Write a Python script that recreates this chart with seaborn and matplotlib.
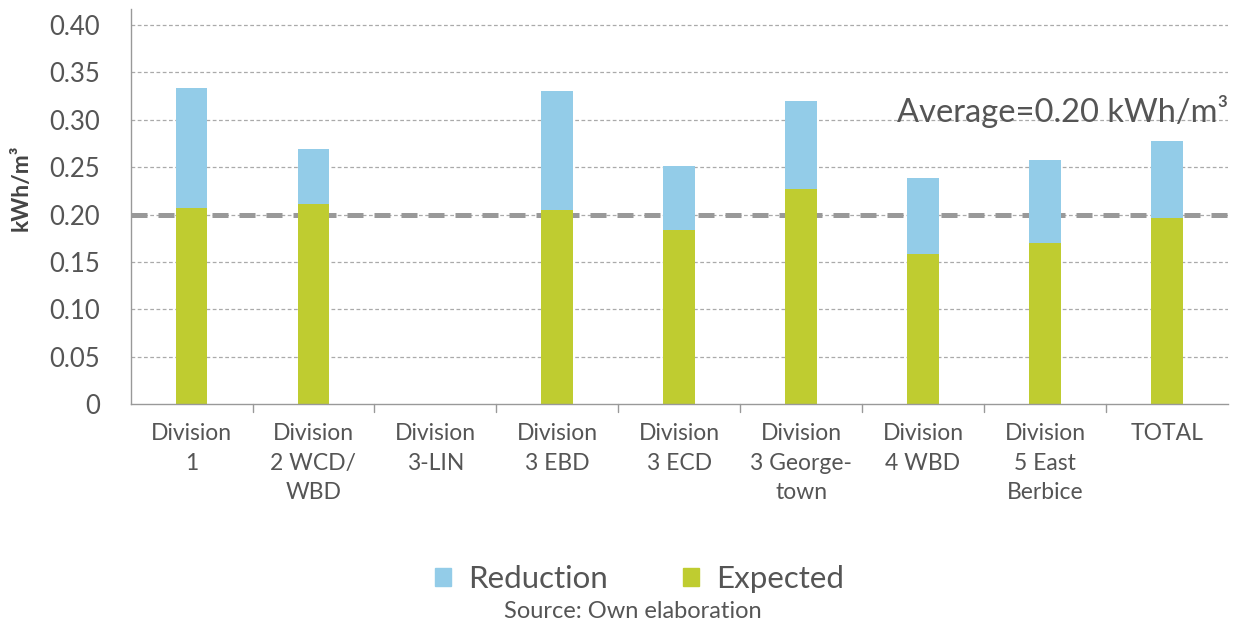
import numpy as np
import pandas as pd
import seaborn as sns
from matplotlib import pyplot as plt
from matplotlib.patches import Patch

categories = ["Division\n1", "Division\n2 WCD/\nWBD", "Division\n3-LIN", "Division\n3 EBD",
              "Division\n3 ECD", "Division\n3 George-\ntown", "Division\n4 WBD",
              "Division\n5 East\nBerbice", "TOTAL"]
expected = [0.207, 0.211, 0.0, 0.205, 0.184, 0.227, 0.158, 0.170, 0.196]
reduction = [0.127, 0.058, 0.0, 0.125, 0.067, 0.093, 0.081, 0.088, 0.082]
average = 0.20

BLUE = "#93cce8"
GREEN = "#bfcc30"
TXT = "#555555"
GREY = "#999999"

sns.set_style("white")
plt.rcParams["font.family"] = ["Lato", "DejaVu Sans"]

df = pd.DataFrame({"cat": categories, "expected": expected, "reduction": reduction})
df["total"] = df["expected"] + df["reduction"]

fig = plt.figure(figsize=(12.44, 6.24), dpi=100)
ax = fig.add_axes([0.105, 0.3526, 0.882, 0.633])

# stacked: draw total (blue) then expected (green) over it
sns.barplot(data=df, x="cat", y="total", color=BLUE, width=0.26, saturation=1,
            linewidth=0, ax=ax, zorder=2)
sns.barplot(data=df, x="cat", y="expected", color=GREEN, width=0.26, saturation=1,
            linewidth=0, ax=ax, zorder=2)

ax.set_xlim(-0.5, len(categories) - 0.5)
ax.set_ylim(0, 0.417)
ax.set_yticks(np.arange(0, 0.41, 0.05))
ax.set_yticklabels(["0"] + [f"{v:.2f}" for v in np.arange(0.05, 0.41, 0.05)])

for v in np.arange(0.05, 0.41, 0.05):
    ax.axhline(v, color="#aaaaaa", lw=0.9, ls=(0, (3, 2)), zorder=0)

ax.axhline(average, color=GREY, lw=3.6, ls=(0, (3.2, 2.2)), zorder=1)
ax.text(len(categories) - 0.5, 0.298, "Average=0.20 kWh/m³", ha="right", va="baseline",
        fontsize=23.5, color=TXT)

# category boundary ticks on x axis
ax.set_xticks(np.arange(len(categories)))
ax.set_xticklabels(categories, fontsize=16.5, color=TXT, linespacing=1.5)
ax.tick_params(axis="x", length=0, pad=14)
for b in np.arange(0.5, len(categories) - 0.5, 1):
    ax.plot([b, b], [0, -0.008], color="#999999", lw=1, clip_on=False)

ax.tick_params(axis="y", labelsize=18.5, labelcolor=TXT, length=14, color="#999999",
               width=1, pad=8)

for s in ["top", "right"]:
    ax.spines[s].set_visible(False)
for s in ["left", "bottom"]:
    ax.spines[s].set_color("#999999")
    ax.spines[s].set_linewidth(1)

ax.set_xlabel("")
ax.set_ylabel("kWh/m³", fontsize=16.5, fontweight="bold", color="#444444")
ax.yaxis.set_label_coords(-0.09, 0.547)

handles = [Patch(color=BLUE, label="Reduction"), Patch(color=GREEN, label="Expected")]
fig.legend(handles=handles, loc="center", bbox_to_anchor=(0.514, 0.072), ncol=2,
           frameon=False, fontsize=22.5, labelcolor=TXT, handlelength=0.52, handleheight=0.52,
           columnspacing=2.4, handletextpad=0.55)
fig.text(0.5085, 0.01, "Source: Own elaboration", ha="center", va="baseline",
         fontsize=17, color=TXT)

fig.savefig("out.png", dpi=100)
